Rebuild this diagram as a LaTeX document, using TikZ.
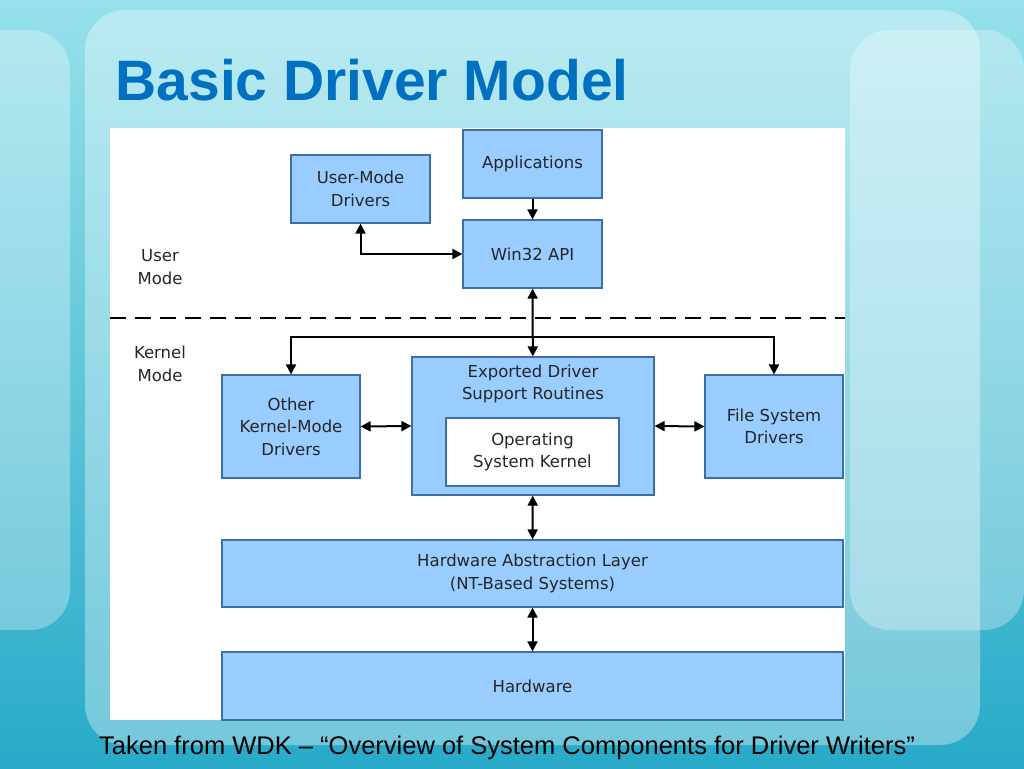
\documentclass[tikz,border=0pt]{standalone}
\usepackage{fontspec}
\setmainfont{Liberation Sans}
\newfontfamily\vfont{DejaVu Sans}
\usetikzlibrary{arrows.meta}
\definecolor{bxfill}{RGB}{153,204,255}
\definecolor{bxdraw}{RGB}{60,110,170}
\definecolor{ttl}{RGB}{0,112,192}
\definecolor{bgA}{RGB}{40,170,200}
\definecolor{bgB}{RGB}{150,225,235}
\begin{document}
\begin{tikzpicture}[x=1pt,y=-1pt,
  bx/.style={draw=bxdraw,line width=1.2pt,fill=bxfill},
  lbl/.style={font=\vfont\fontsize{16.5}{22.5}\selectfont,align=center,text=black!85},
  ar/.style={line width=2pt,-{Triangle[length=10pt,width=10pt]}},
  dar/.style={line width=2pt,{Triangle[length=10pt,width=10pt]}-{Triangle[length=10pt,width=10pt]}}]
\useasboundingbox (0,0) rectangle (1024,768);
\shade[top color=bgB,bottom color=bgA] (0,0) rectangle (1024,768);
\fill[white,opacity=0.35,rounded corners=40pt] (85,10) rectangle (980,745);
\fill[white,opacity=0.3,rounded corners=40pt] (850,30) rectangle (1024,630);
\fill[white,opacity=0.3,rounded corners=40pt] (-40,30) rectangle (70,630);
\fill[white] (110,128) rectangle (845,720);
\node[anchor=west,text=ttl,font=\bfseries\fontsize{57}{62}\selectfont] (title) at (112,80) {Basic Driver Model};
\node[bx,minimum width=139pt,minimum height=68pt,lbl] (app) at (532.5,164) {Applications};
\node[bx,minimum width=139pt,minimum height=68pt,lbl] (umd) at (360.5,189) {User-Mode\\Drivers};
\node[bx,minimum width=139pt,minimum height=68pt,lbl] (win) at (532.5,254) {Win32 API};
\node[lbl] (um) at (160,267) {User\\Mode};
\node[lbl] (km) at (160,364) {Kernel\\Mode};
\coordinate (dl) at (110,318); \coordinate (dr) at (845,318);
\draw[line width=2.5pt,dash pattern=on 16pt off 9pt] (dl) -- (dr);
\node[bx,minimum width=242pt,minimum height=138pt] (exp) at (533,426) {};
\node[lbl,anchor=north] (expt) at (533,361) {Exported Driver\\Support Routines};
\node[draw=bxdraw,line width=1.2pt,fill=white,minimum width=173pt,minimum height=68pt,lbl] (osk) at (532.5,452) {Operating\\System Kernel};
\node[bx,minimum width=138pt,minimum height=103pt,lbl] (okm) at (291,426.5) {Other\\Kernel-Mode\\Drivers};
\node[bx,minimum width=138pt,minimum height=103pt,lbl] (fsd) at (774,426.5) {File System\\Drivers};
\node[bx,minimum width=621pt,minimum height=67pt,lbl] (hal) at (532.5,573.5) {Hardware Abstraction Layer\\(NT-Based Systems)};
\node[bx,minimum width=621pt,minimum height=68pt,lbl] (hw) at (532.5,686) {Hardware};
\draw[ar] (app) -- (win);
\draw[dar] (umd.south) |- (win.west);
\draw[dar] (win) -- (exp);
\coordinate (j) at (533,337);
\draw[ar] (j) -| (okm.north);
\draw[ar] (j) -| (fsd.north);
\draw[dar] (okm.east) -- (exp.west);
\draw[dar] (exp.east) -- (fsd.west);
\draw[dar] (exp) -- (hal);
\draw[dar] (hal) -- (hw);
\node[font=\fontsize{25.5}{28}\selectfont] (cap) at (507,748) {Taken from WDK – “Overview of System Components for Driver Writers”};
\end{tikzpicture}
\end{document}
